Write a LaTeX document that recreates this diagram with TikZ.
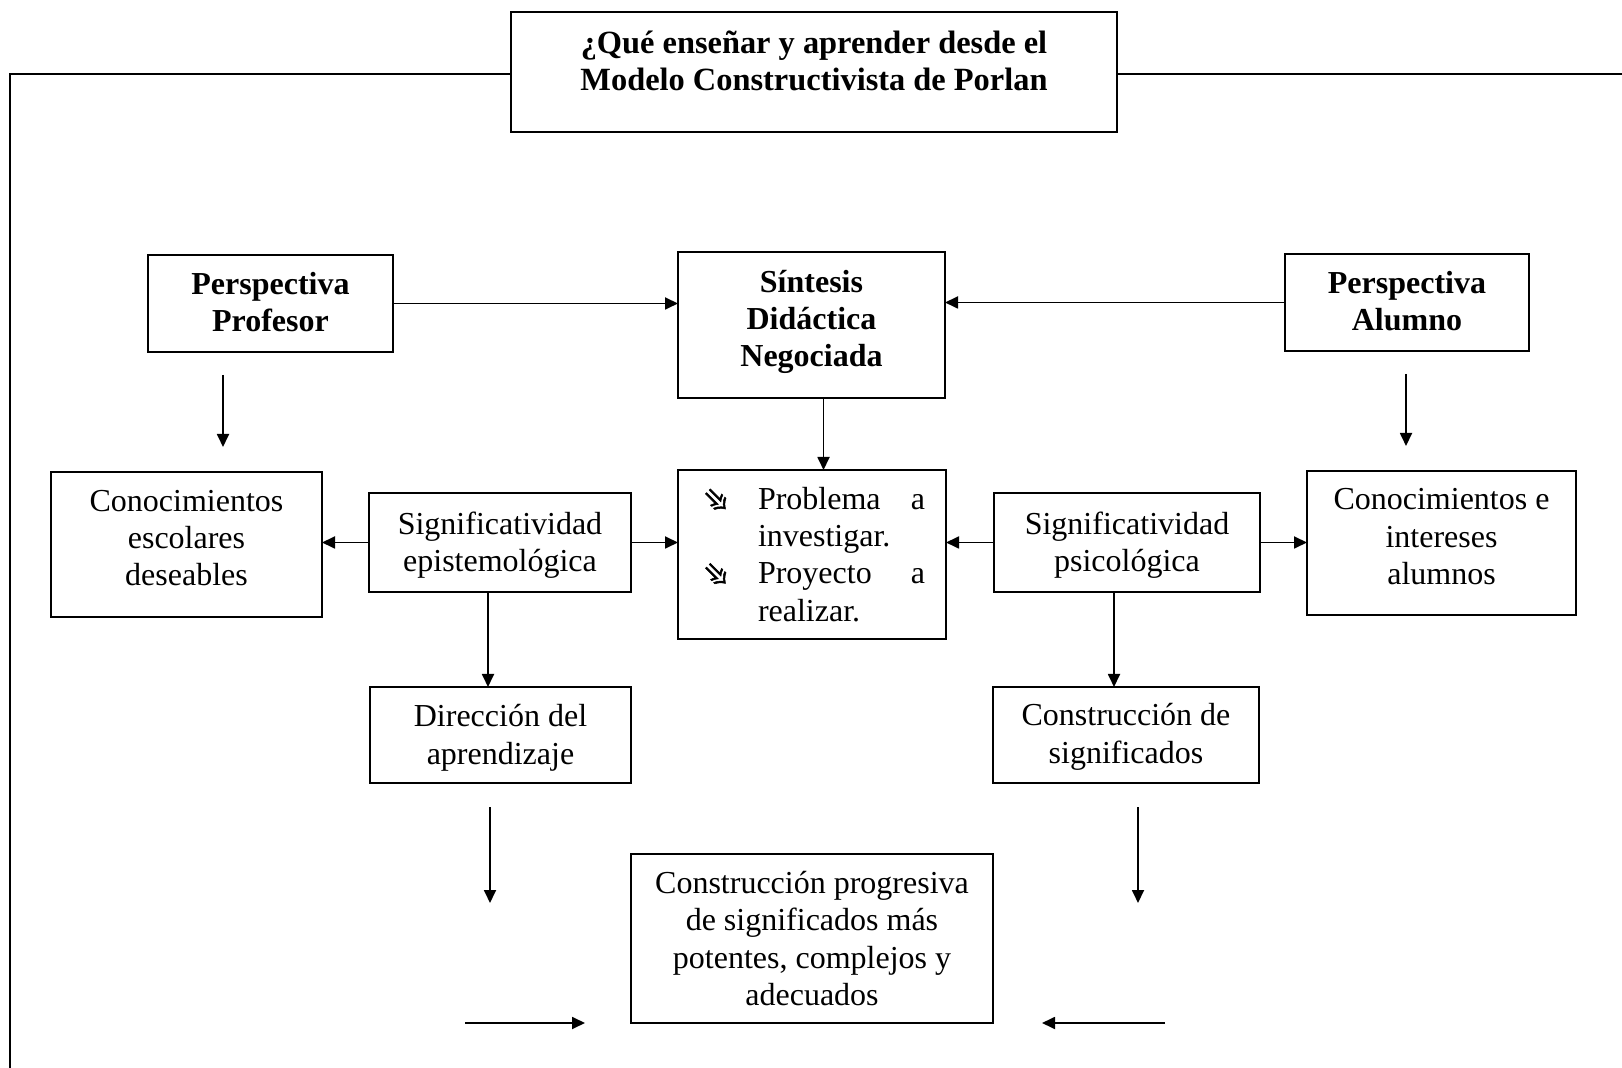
\documentclass[tikz,border=0pt]{standalone}
\usepackage{fontspec}
\setmainfont{Liberation Serif}
\newfontfamily\simbolos[FakeBold=1.5]{DejaVu Sans}
\usetikzlibrary{calc,arrows.meta}
\newcommand{\vineta}{\makebox[29.5pt][l]{\smash{\raisebox{6pt}{\rotatebox{-45}{\simbolos\fontsize{17}{17}\selectfont ➾}}}}}
\newcommand{\subir}[1]{\rule[-#1pt]{0pt}{#1pt}}
\newcommand{\bajar}[1]{\rule{0pt}{#1pt}}

\begin{document}
\begin{tikzpicture}[x=0.5pt,y=-0.5pt]
  % Estilos para las cajas y las flechas
  \tikzstyle{caja} = [draw, line width=0.9pt, align=center, inner sep=0pt, outer sep=0pt, font=\fontsize{16}{18.6}\selectfont];
  \tikzstyle{cajabold} = [caja, font=\fontsize{16}{18.6}\selectfont\bfseries];
  \tikzstyle{flecha} = [line width=0.9pt, -{Triangle[length=6.5pt,width=6pt]}];

  \useasboundingbox (0,0) rectangle (1622,1068);
  \fill[white] (0,0) rectangle (1622,1068);

  % Titulo y marco exterior
  \node [cajabold, font=\fontsize{16.2}{18.6}\selectfont\bfseries, minimum width=303pt, minimum height=60pt] (titulo) at (814,72) {¿Qué enseñar y aprender desde el\\Modelo Constructivista de Porlan\subir{11.6}};
  \coordinate (marcoizq) at (10,74);
  \coordinate (marcobajo) at (10,1068);
  \coordinate (marcoder) at (1622,74);
  \draw [line width=0.8pt] (titulo.west |- marcoizq) -- (marcoizq) -- (marcobajo);
  \draw [line width=0.8pt] (titulo.east |- marcoder) -- (marcoder);

  % Fila de las perspectivas
  \node [cajabold, minimum width=122.5pt, minimum height=48.5pt] (profesor) at (270.5,303.5) {Perspectiva\\Profesor\subir{1.8}};
  \node [cajabold, minimum width=133.5pt, minimum height=73pt] (sintesis) at (811.5,325) {Síntesis\\Didáctica\\Negociada\subir{6.4}};
  \node [cajabold, minimum width=122pt, minimum height=48.5pt] (alumno) at (1407,302.5) {Perspectiva\\Alumno\subir{1.2}};

  % Fila central
  \node [caja, minimum width=135.5pt, minimum height=72.5pt] (escolares) at (186.5,544.5) {Conocimientos\\escolares\\deseables\subir{6.4}};
  \node [caja, minimum width=131pt, minimum height=49.5pt] (epistemo) at (500,542.5) {\bajar{14}Significatividad\\epistemológica};
  \node [caja, minimum width=134pt, minimum height=84.5pt] (problema) at (812,554.5) {\vineta\makebox[83.5pt]{Problema\hfill a}\\\hspace*{29.5pt}\makebox[83.5pt][l]{investigar.}\\\vineta\makebox[83.5pt]{Proyecto\hfill a}\\\hspace*{29.5pt}\makebox[83.5pt][l]{realizar.}};
  \node [caja, minimum width=133pt, minimum height=49.5pt] (psico) at (1127,542.5) {\bajar{14}Significatividad\\psicológica};
  \node [caja, minimum width=134.5pt, minimum height=72pt] (intereses) at (1441.5,543) {Conocimientos e\\intereses\\alumnos\subir{6.4}};

  % Fila inferior
  \node [caja, minimum width=130.5pt, minimum height=48pt] (direccion) at (500.5,735) {\bajar{14}Dirección del\\aprendizaje};
  \node [caja, minimum width=133pt, minimum height=48pt] (construccion) at (1126,735) {\bajar{13}Construcción de\\significados};
  \node [caja, minimum width=181pt, minimum height=84.5pt] (progresiva) at (812,938.5) {Construcción progresiva\\de significados más\\potentes, complejos y\\adecuados};

  % Extremos de las flechas sueltas
  \coordinate (a1) at (223,375);  \coordinate (a2) at (223,447);
  \coordinate (b1) at (1406,374); \coordinate (b2) at (1406,446);
  \coordinate (c1) at (490,807);  \coordinate (c2) at (490,903);
  \coordinate (d1) at (1138,807); \coordinate (d2) at (1138,903);
  \coordinate (e1) at (465,1023); \coordinate (e2) at (585,1023);
  \coordinate (f1) at (1165,1023); \coordinate (f2) at (1042,1023);

  % Flechas entre cajas
  \draw [flecha] (profesor.east) -- (sintesis.west |- profesor.east);
  \draw [flecha] (alumno.west) -- (sintesis.east |- alumno.west);
  \draw [flecha] ([xshift=6pt]sintesis.south) -- ([xshift=6pt]sintesis.south |- problema.north);
  \draw [flecha] (epistemo.west) -- (escolares.east |- epistemo.west);
  \draw [flecha] (epistemo.east) -- (problema.west |- epistemo.east);
  \draw [flecha] (psico.west) -- (problema.east |- psico.west);
  \draw [flecha] (psico.east) -- (intereses.west |- psico.east);
  \draw [flecha] ([xshift=-6pt]epistemo.south) -- ([xshift=-6pt]epistemo.south |- direccion.north);
  \draw [flecha] ([xshift=-6.5pt]psico.south) -- ([xshift=-6.5pt]psico.south |- construccion.north);

  % Flechas sueltas
  \draw [flecha] (a1) -- (a2);
  \draw [flecha] (b1) -- (b2);
  \draw [flecha] (c1) -- (c2);
  \draw [flecha] (d1) -- (d2);
  \draw [flecha] (e1) -- (e2);
  \draw [flecha] (f1) -- (f2);
\end{tikzpicture}
\end{document}
